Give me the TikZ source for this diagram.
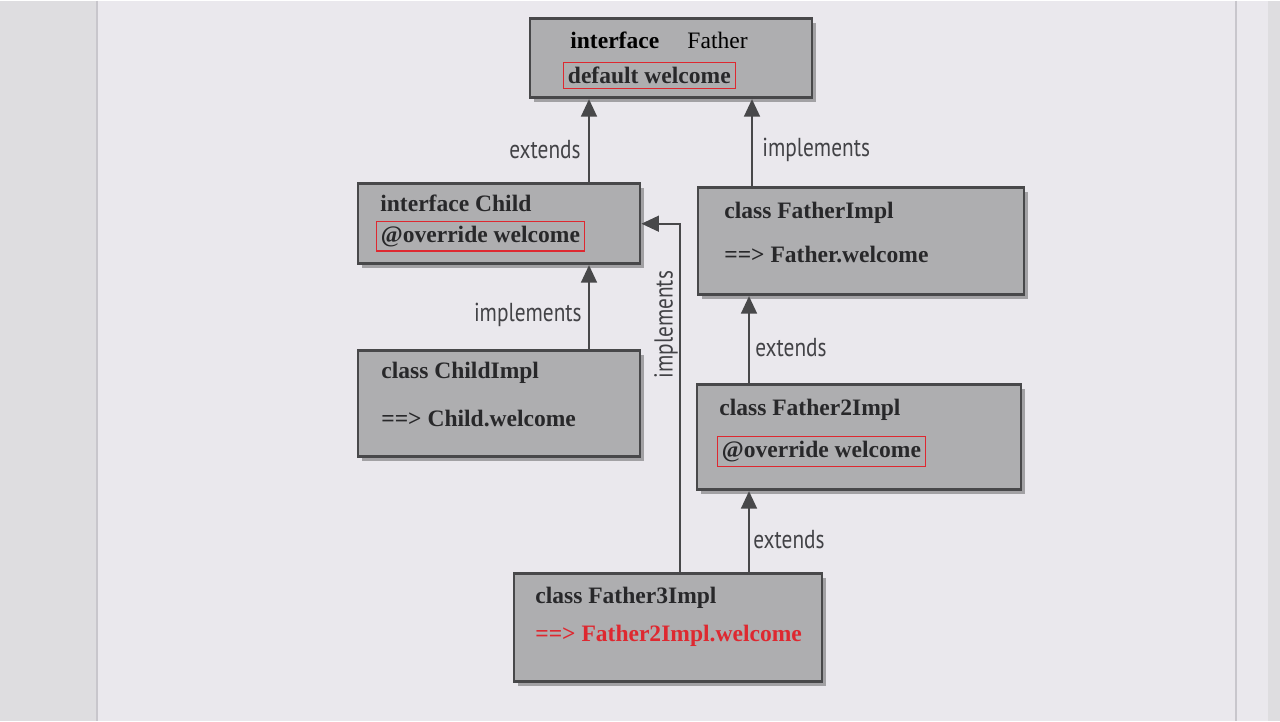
\documentclass[tikz,border=0pt]{standalone}
\usepackage{fontspec}
\setmainfont{Liberation Serif}
\newfontfamily\labelfont[FakeStretch=0.82]{PT Sans}
\usetikzlibrary{arrows.meta,shadows}
\definecolor{page}{RGB}{234,232,237}
\definecolor{edge}{RGB}{200,198,204}
\definecolor{boxfill}{RGB}{174,174,176}
\definecolor{boxline}{RGB}{72,72,74}
\definecolor{ink}{RGB}{40,40,42}
\definecolor{labelink}{RGB}{66,66,70}
\definecolor{hilite}{RGB}{222,40,48}
\tikzset{
  classbox/.style={draw=boxline, line width=1.6pt, fill=boxfill, inner sep=0pt,
    drop shadow={shadow xshift=2pt, shadow yshift=-2.5pt, opacity=0.45, fill=black!70}},
  boxtext/.style={anchor=west, inner sep=0pt, text=ink,
    font=\fontsize{13.4}{15}\selectfont\bfseries},
  redtext/.style={boxtext, text=hilite},
  marked/.style={boxtext, draw=hilite, line width=0.6pt, inner xsep=2.5pt, inner ysep=2.5pt},
  rel/.style={draw=boxline, line width=1.3pt, -{Triangle[length=10pt,width=9pt]}},
  rellabel/.style={inner sep=0pt, text=labelink, font=\labelfont\fontsize{14.8}{16}\selectfont}
}
\begin{document}
\begin{tikzpicture}[x=0.02cm,y=-0.02cm]
  % page
  \fill[page] (0,0) rectangle (1280,720);
  \fill[edge!60] (0,0) rectangle (96,720);
  \fill[edge!60] (1268,0) rectangle (1280,720);
  \draw[edge, line width=0.8pt] (97,0) -- (97,720);
  \draw[edge, line width=0.8pt] (1236,0) -- (1236,720);

  % boxes
  \node[classbox, minimum width=282*0.02cm, minimum height=79*0.02cm] (father) at (671,57.5) {};
  \node[classbox, minimum width=282*0.02cm, minimum height=80*0.02cm] (child) at (499,223) {};
  \node[classbox, minimum width=326*0.02cm, minimum height=107*0.02cm] (fatherimpl) at (861,240.5) {};
  \node[classbox, minimum width=282*0.02cm, minimum height=106*0.02cm] (childimpl) at (499,403) {};
  \node[classbox, minimum width=324*0.02cm, minimum height=105*0.02cm] (father2impl) at (859,436.5) {};
  \node[classbox, minimum width=308*0.02cm, minimum height=108*0.02cm] (father3impl) at (668,627) {};

  % box texts
  \node[boxtext, text=black] (fathertitle) at (570,40) {interface\hspace{1.2em}\mdseries Father};
  \node[marked] (fatherdefault) at (563,75) {default welcome};
  \node[boxtext] (childtitle) at (380,203) {interface Child};
  \node[marked] (childoverride) at (376,235.5) {@override welcome};
  \node[boxtext] (fatherimpltitle) at (724,212) {class FatherImpl};
  \node[boxtext] (fatherimplcall) at (724,254) {==> Father.welcome};
  \node[boxtext] (childimpltitle) at (381,372) {class ChildImpl};
  \node[boxtext] (childimplcall) at (381,418) {==> Child.welcome};
  \node[boxtext] (father2title) at (719,409) {class Father2Impl};
  \node[marked] (father2override) at (717,451) {@override welcome};
  \node[boxtext] (father3title) at (535,597) {class Father3Impl};
  \node[redtext] (father3call) at (535,635) {==> Father2Impl.welcome};

  % connectors
  \coordinate (lanea) at (589,0);
  \coordinate (laneb) at (752,0);
  \coordinate (lanec) at (749,0);
  \coordinate (laned) at (680,0);
  \draw[rel] (lanea |- child.north) -- (lanea |- father.south);
  \draw[rel] (laneb |- fatherimpl.north) -- (laneb |- father.south);
  \draw[rel] (lanea |- childimpl.north) -- (lanea |- child.south);
  \draw[rel] (lanec |- father2impl.north) -- (lanec |- fatherimpl.south);
  \draw[rel] (lanec |- father3impl.north) -- (lanec |- father2impl.south);
  \draw[rel] (laned |- father3impl.north) |- (child.east);

  % labels
  \node[rellabel, anchor=east] (ext1) at (581,149) {extends};
  \node[rellabel, anchor=west] (impl1) at (762,149) {implements};
  \node[rellabel, anchor=east] (impl2) at (582,314) {implements};
  \node[rellabel, anchor=west] (ext2) at (755,347) {extends};
  \node[rellabel, anchor=west] (ext3) at (753,539) {extends};
  \node[rellabel, rotate=90] (impl3) at (666,324) {implements};
\end{tikzpicture}
\end{document}
